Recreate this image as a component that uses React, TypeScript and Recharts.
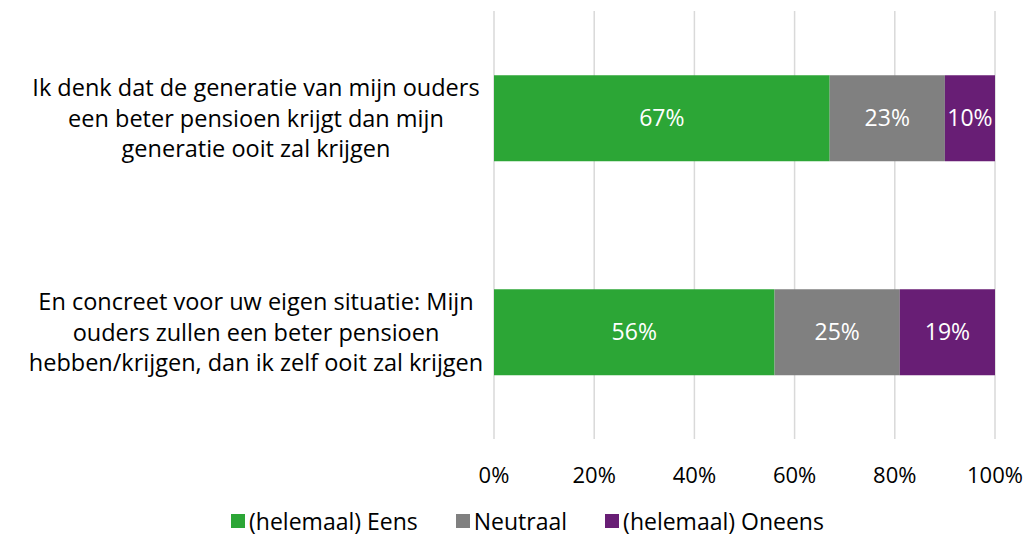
import { BarChart, Bar, XAxis, YAxis, CartesianGrid, Legend, LabelList } from "recharts";

const questions = [
  ["Ik denk dat de generatie van mijn ouders", "een beter pensioen krijgt dan mijn", "generatie ooit zal krijgen"],
  ["En concreet voor uw eigen situatie: Mijn", "ouders zullen een beter pensioen", "hebben/krijgen, dan ik zelf ooit zal krijgen"],
];
const eens = [67, 56];
const neutraal = [23, 25];
const oneens = [10, 19];
const xTicks = [0, 20, 40, 60, 80, 100];

const seriesInfo = [
  { key: "eens", name: "(helemaal) Eens", color: "#2CA636" },
  { key: "neutraal", name: "Neutraal", color: "#808080" },
  { key: "oneens", name: "(helemaal) Oneens", color: "#681E75" },
];

const data = questions.map((q, i) => ({
  id: i,
  eens: eens[i],
  neutraal: neutraal[i],
  oneens: oneens[i],
}));

const FONT = "'Open Sans', sans-serif";

const CategoryTick = (props: any) => {
  const { y, payload } = props;
  const lines = questions[payload.value];
  const cx = 256;
  return (
    <text x={cx} y={y} textAnchor="middle" fill="#000" fontSize={23.5} fontFamily={FONT}>
      {lines.map((l, i) => (
        <tspan key={i} x={cx} dy={i === 0 ? -22 : 30.5}>
          {l}
        </tspan>
      ))}
    </text>
  );
};

const LegendContent = () => (
  <div
    style={{
      display: "flex",
      justifyContent: "center",
      gap: 38,
      fontFamily: FONT,
      fontSize: 23,
      paddingLeft: 60,
      paddingTop: 12,
      lineHeight: "28px",
    }}
  >
    {seriesInfo.map((s) => (
      <span key={s.key} style={{ display: "flex", alignItems: "center", gap: 4 }}>
        <span style={{ width: 14, height: 14, background: s.color, display: "inline-block" }} />
        <span>{s.name}</span>
      </span>
    ))}
  </div>
);

export default function App() {
  return (
    <div style={{ position: "fixed", top: 0, left: 0, width: 1027, height: 540, background: "#fff" }}>
      <BarChart
        width={1027}
        height={540}
        data={data}
        layout="vertical"
        barCategoryGap="30%"
        margin={{ top: 11, right: 32, left: 0, bottom: 0 }}
        style={{ overflow: "visible" }}
      >
        <CartesianGrid horizontal={false} stroke="#d9d9d9" strokeWidth={1.5} />
        <XAxis
          type="number"
          domain={[0, 100]}
          ticks={xTicks}
          tickFormatter={(v) => `${v}%`}
          axisLine={false}
          tickLine={false}
          height={56}
          tick={{ fill: "#000", fontSize: 22, fontFamily: FONT }}
          dy={20}
        />
        <YAxis
          type="category"
          dataKey="id"
          width={494}
          axisLine={false}
          tickLine={false}
          tick={<CategoryTick />}
        />
        <Legend verticalAlign="bottom" height={45} content={<LegendContent />} />
        {seriesInfo.map((s) => (
          <Bar key={s.key} dataKey={s.key} name={s.name} stackId="a" fill={s.color} isAnimationActive={false}>
            <LabelList
              dataKey={s.key}
              position="center"
              formatter={(v: any) => `${v}%`}
              fill="#fff"
              fontSize={23}
              fontFamily={FONT}
            />
          </Bar>
        ))}
      </BarChart>
    </div>
  );
}
